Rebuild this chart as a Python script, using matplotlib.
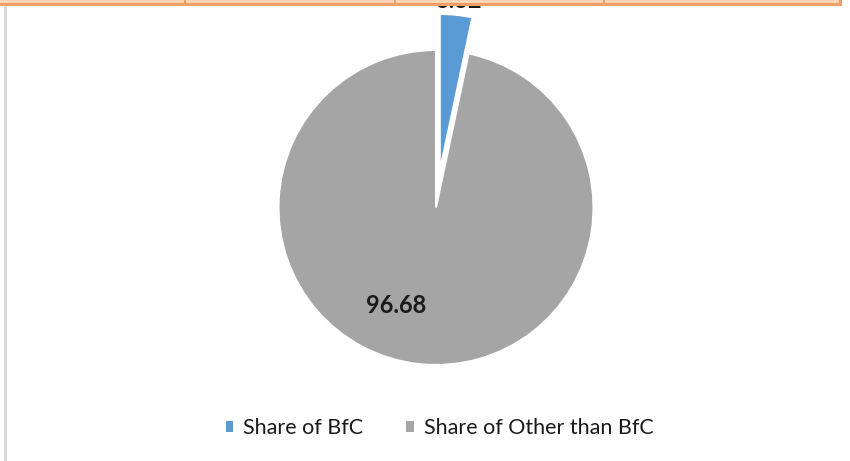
import matplotlib
matplotlib.use("Agg")
import matplotlib.pyplot as plt
from matplotlib.patches import Rectangle

# data
categories = ["Share of BfC", "Share of Other than BfC"]
shares = [3.32, 96.68]
colors = ["#5B9BD5", "#A5A5A5"]

plt.rcParams['font.family'] = ['Lato', 'DejaVu Sans']

fig = plt.figure(figsize=(8.5, 4.61), dpi=100)
ax = fig.add_axes([0, 0, 1, 1])

wedges, _ = ax.pie(shares, colors=colors, startangle=90, counterclock=False,
                   explode=[0.23, 0], wedgeprops=dict(edgecolor="white", linewidth=1.5))

# pixel layout: centre at (436, 207.5) from top-left, radius 157.5 px
ax.set_xlim(-436 / 157.5, (850 - 436) / 157.5)
ax.set_ylim(-(461 - 207.5) / 157.5, 207.5 / 157.5)
ax.set_aspect('auto')
ax.axis('off')

# data labels
ax.text(0.146, 1.314, "%.2f" % shares[0], ha="center", va="center",
        fontsize=17, fontweight="bold", color="#1a1a1a")
ax.text(-0.254, -0.625, "%.2f" % shares[1], ha="center", va="center",
        fontsize=17, fontweight="bold", color="#1a1a1a")

# legend
handles = [Rectangle((0, 0), 1, 1, facecolor=c) for c in colors]
ax.legend(handles, categories, loc="center", bbox_to_anchor=(0.517, 0.071),
          bbox_transform=fig.transFigure, frameon=False, ncol=2,
          fontsize=15.5, handlelength=0.36, handleheight=0.36,
          handletextpad=0.45, columnspacing=2.0, labelcolor="#1a1a1a")

# spreadsheet frame bits around the chart
H = 461.0
fig.patches.append(Rectangle((0, 1 - 3 / H), 842 / 850, 3 / H, transform=fig.transFigure,
                             facecolor="#FCD5B4", edgecolor="none", zorder=10))
fig.patches.append(Rectangle((0, 1 - 6 / H), 842 / 850, 3 / H, transform=fig.transFigure,
                             facecolor="#F0A064", edgecolor="none", zorder=11))
for xs in [184, 394, 603]:
    fig.patches.append(Rectangle((xs / 850, 1 - 6 / H), 2 / 850, 6 / H, transform=fig.transFigure,
                                 facecolor="#F0A064", edgecolor="none", zorder=11))
fig.patches.append(Rectangle((839 / 850, 1 - 6 / H), 3 / 850, 6 / H, transform=fig.transFigure,
                             facecolor="#F0A064", edgecolor="none", zorder=11))
fig.patches.append(Rectangle((4 / 850, 0), 3 / 850, 1 - 6 / H, transform=fig.transFigure,
                             facecolor="#D9D9D9", edgecolor="none", zorder=11))

fig.savefig("out.png", dpi=100)
